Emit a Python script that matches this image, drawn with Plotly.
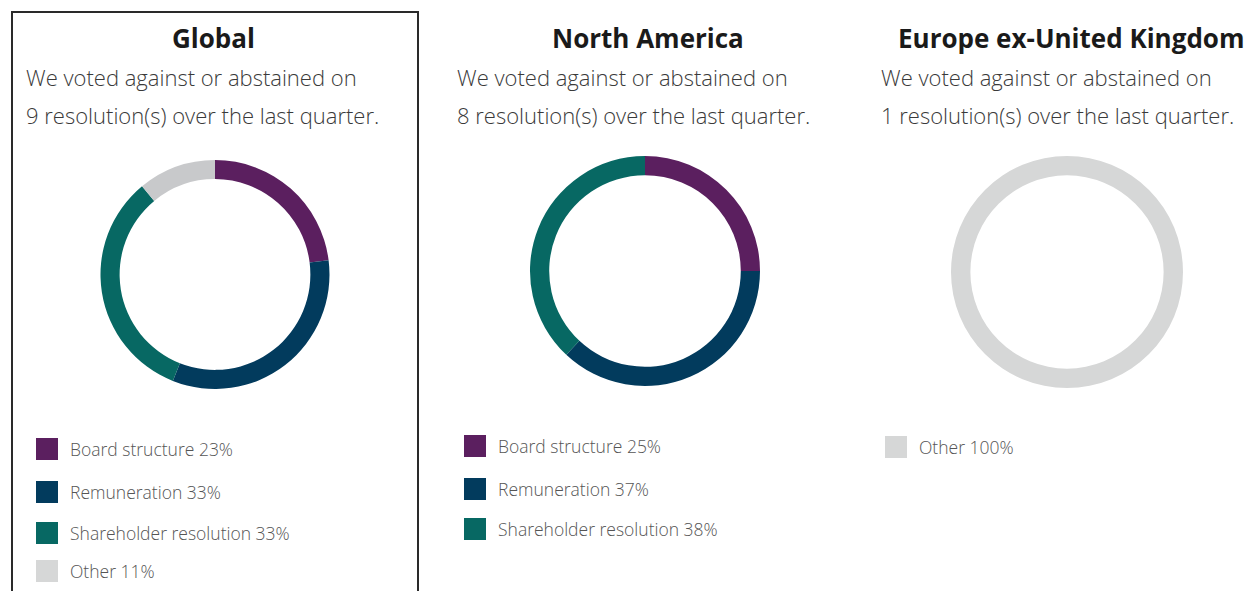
import plotly.graph_objects as go

OX, OY = 0, 0  # body margin removed via post_script
W, H = 1249, 591

# ---- data ----
regions = ["Global", "North America", "Europe ex-United Kingdom"]
resolution_counts = [9, 8, 1]
global_labels = ["Board structure", "Remuneration", "Shareholder resolution", "Other"]
global_values = [23, 33, 33, 11]
na_labels = ["Board structure", "Remuneration", "Shareholder resolution"]
na_values = [25, 37, 38]
eu_labels = ["Other"]
eu_values = [100]

color_map = {
    "Board structure": "#5B1F5F",
    "Remuneration": "#023B5D",
    "Shareholder resolution": "#076863",
    "Other": "#C8C9CB",
}
legend_other_color = "#D6D7D7"
eu_ring_color = "#D6D7D7"

# ---- layout constants (page pixels) ----
panels = [
    dict(labels=global_labels, values=global_values, cx=215, cy=274.5, r=114.5,
         title_x=214, text_x=24, leg_x=36, leg_y=[449, 492, 533, 571]),
    dict(labels=na_labels, values=na_values, cx=645, cy=271, r=115,
         title_x=648, text_x=455, leg_x=464, leg_y=[446, 489, 529]),
    dict(labels=eu_labels, values=eu_values, cx=1067, cy=272, r=116,
         title_x=1071, text_x=879, leg_x=885, leg_y=[447]),
]
title_sizes = [26, 26, 26]

FONT = "Open Sans"

def px(x):
    return (x - OX) / W

def py(y):
    return 1 - (y - OY) / H

fig = go.Figure()
shapes = []
annotations = []

for i, p in enumerate(panels):
    cols = [color_map[l] for l in p["labels"]]
    if regions[i].startswith("Europe"):
        cols = [eu_ring_color]
    fig.add_trace(go.Pie(
        labels=p["labels"], values=p["values"],
        hole=0.833, sort=False, direction="clockwise", rotation=0,
        marker=dict(colors=cols, line=dict(width=0)),
        textinfo="none", hoverinfo="label+percent", showlegend=False,
        domain=dict(x=[px(p["cx"] - p["r"]), px(p["cx"] + p["r"])],
                    y=[py(p["cy"] + p["r"]), py(p["cy"] - p["r"])]),
        name=regions[i],
    ))
    # title
    annotations.append(dict(
        x=px(p["title_x"]), y=py(38), xref="paper", yref="paper",
        text="<b>" + regions[i] + "</b>", showarrow=False,
        xanchor="center", yanchor="middle",
        font=dict(family=FONT, size=title_sizes[i], color="#1a1a1a")))
    # description lines
    annotations.append(dict(
        x=px(p["text_x"]), y=py(77), xref="paper", yref="paper",
        text="We voted against or abstained on", showarrow=False,
        xanchor="left", yanchor="middle",
        font=dict(family=FONT, size=22, color="#3a3a3a", weight=300)))
    annotations.append(dict(
        x=px(p["text_x"]), y=py(115), xref="paper", yref="paper",
        text=f"{resolution_counts[i]} resolution(s) over the last quarter.",
        showarrow=False, xanchor="left", yanchor="middle",
        font=dict(family=FONT, size=22, color="#3a3a3a", weight=300)))
    # legend
    for lab, val, ly in zip(p["labels"], p["values"], p["leg_y"]):
        c = legend_other_color if lab == "Other" else color_map[lab]
        shapes.append(dict(type="rect", xref="paper", yref="paper",
                           x0=px(p["leg_x"]), x1=px(p["leg_x"] + 22),
                           y0=py(ly + 11), y1=py(ly - 11),
                           fillcolor=c, line=dict(width=0)))
        annotations.append(dict(
            x=px(p["leg_x"] + 32), y=py(ly), xref="paper", yref="paper",
            text=f"{lab} {val}%", showarrow=False,
            xanchor="left", yanchor="middle",
            font=dict(family=FONT, size=17.5, color="#555555", weight=300)))

# box around Global panel
shapes.append(dict(type="rect", xref="paper", yref="paper",
                   x0=px(12), x1=px(418), y0=py(620), y1=py(12),
                   line=dict(color="#2a2a2a", width=2), fillcolor="rgba(0,0,0,0)"))

fig.update_layout(
    width=W, height=H,
    margin=dict(l=0, r=0, t=0, b=0),
    paper_bgcolor="white", plot_bgcolor="white",
    shapes=shapes, annotations=annotations,
    showlegend=False,
)

fig.write_html(
    "out.html",
    config={"displayModeBar": False},
    post_script="document.body.style.margin='0';document.body.style.overflow='hidden';",
)
